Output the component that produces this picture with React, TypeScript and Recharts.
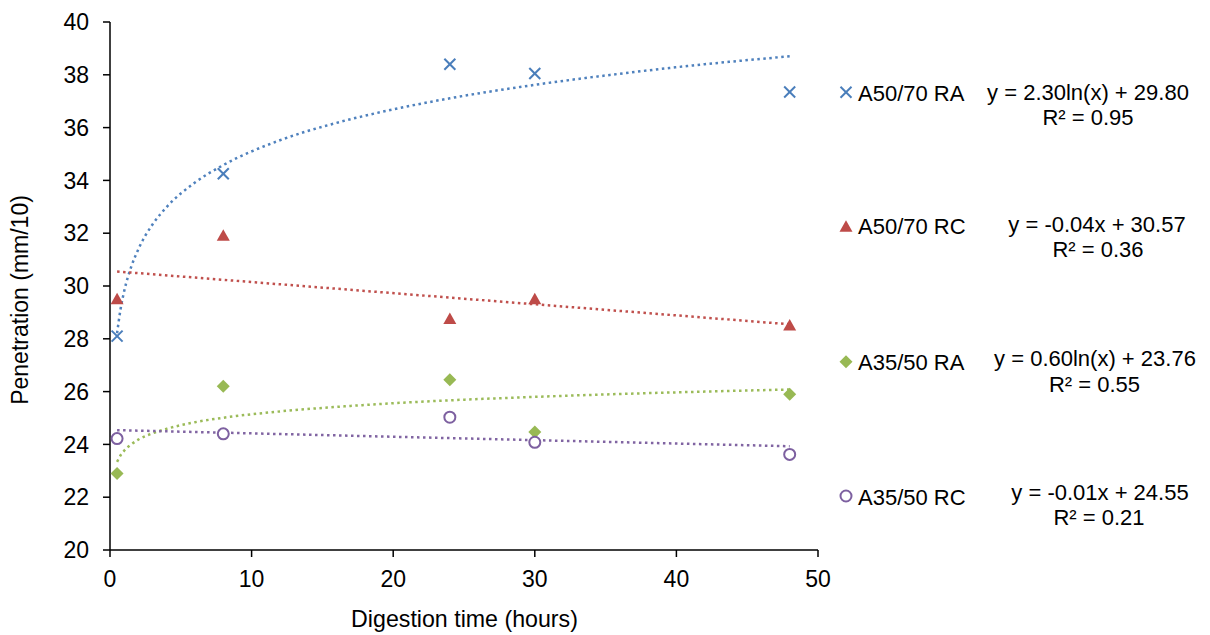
import React from "react"
import { ComposedChart, Scatter, Line, XAxis, YAxis, Label } from "recharts"

const FONT = "'Liberation Sans', Arial, sans-serif"

// measured points (hours vs penetration)
const hours = [0.5, 8, 24, 30, 48]
const a5070RA = [28.1, 34.25, 38.4, 38.05, 37.35]
const a5070RC = [29.5, 31.9, 28.75, 29.5, 28.5]
const a3550RA = [22.9, 26.2, 26.45, 24.47, 25.9]
const a3550RC = [24.22, 24.4, 25.03, 24.08, 23.62]

// trendlines
const logTrendHours = [0.5, 0.75, 1, 1.5, 2, 3, 4, 6, 8, 12, 16, 20, 24, 30, 36, 42, 48]
const a5070RATrend = [28.21, 29.14, 29.8, 30.73, 31.39, 32.33, 32.99, 33.92, 34.58, 35.52, 36.18, 36.69, 37.11, 37.62, 38.04, 38.4, 38.7]
const a3550RATrend = [23.34, 23.59, 23.76, 24.0, 24.18, 24.42, 24.59, 24.84, 25.01, 25.25, 25.42, 25.56, 25.67, 25.8, 25.91, 26.0, 26.08]
const linTrendHours = [0.5, 48]
const a5070RCTrend = [30.55, 28.55]
const a3550RCTrend = [24.54, 23.93]

const xTicks = [0, 10, 20, 30, 40, 50]
const yTicks = [20, 22, 24, 26, 28, 30, 32, 34, 36, 38, 40]

const seriesNames = ["A50/70 RA", "A50/70 RC", "A35/50 RA", "A35/50 RC"]
const equations = ["y = 2.30ln(x) + 29.80", "y = -0.04x + 30.57", "y = 0.60ln(x) + 23.76", "y = -0.01x + 24.55"]
const rSquared = ["R² = 0.95", "R² = 0.36", "R² = 0.55", "R² = 0.21"]

type Kind = "cross" | "triangle" | "diamond" | "circle"
const KINDS: Kind[] = ["cross", "triangle", "diamond", "circle"]
const COLORS = ["#4A7EBB", "#BE4B48", "#98B954", "#7D60A0"]
const LINE_COLORS = ["#4F81BD", "#C0504D", "#9BBB59", "#8064A2"]

// legend / trendline label layout
const LEGEND_MARK_X = 846
const LEGEND_TEXT_X = 858
const MARK_Y = [92.3, 226.7, 361.7, 496]
const LABEL_BASE = [100.5, 234, 369.5, 505]
const EQ_X = [1088, 1097, 1095, 1100]
const EQ_BASE = [100, 232, 366, 500]
const R2_X = [1088, 1098, 1094.5, 1099]
const R2_BASE = [124.5, 257, 391.5, 525]

const toPoints = (xs: number[], ys: number[]) => xs.map((x, i) => ({ x, y: ys[i] }))

function Marker({ kind, cx, cy, color }: { kind: Kind; cx: number; cy: number; color: string }) {
  if (kind === "cross") {
    const s = 5.5
    return (
      <g stroke={color} strokeWidth={2}>
        <line x1={cx - s} y1={cy - s} x2={cx + s} y2={cy + s} />
        <line x1={cx - s} y1={cy + s} x2={cx + s} y2={cy - s} />
      </g>
    )
  }
  if (kind === "triangle") {
    return <polygon points={`${cx},${cy - 6.5} ${cx + 6.5},${cy + 5} ${cx - 6.5},${cy + 5}`} fill={color} />
  }
  if (kind === "diamond") {
    return <polygon points={`${cx},${cy - 6.5} ${cx + 6.5},${cy} ${cx},${cy + 6.5} ${cx - 6.5},${cy}`} fill={color} />
  }
  return <circle cx={cx} cy={cy} r={5.5} fill="#fff" stroke={color} strokeWidth={2} />
}

const measured = [a5070RA, a5070RC, a3550RA, a3550RC]
const trends = [
  toPoints(logTrendHours, a5070RATrend),
  toPoints(linTrendHours, a5070RCTrend),
  toPoints(logTrendHours, a3550RATrend),
  toPoints(linTrendHours, a3550RCTrend),
]

const tickStyle = { fill: "#000", fontSize: 23, fontFamily: FONT }

export default function App() {
  return (
    <div style={{ position: "absolute", left: 0, top: 0, width: 1210, height: 635, background: "#fff", fontFamily: FONT }}>
      <ComposedChart width={1210} height={635} margin={{ top: 22, right: 392, bottom: 45, left: 50 }}>
        <XAxis
          type="number"
          dataKey="x"
          domain={[0, 50]}
          ticks={xTicks}
          allowDataOverflow
          height={40}
          tickSize={7}
          tickMargin={14}
          tick={tickStyle}
          axisLine={{ stroke: "#000", strokeWidth: 1.5 }}
          tickLine={{ stroke: "#000", strokeWidth: 1.5 }}
        >
          <Label
            content={() => (
              <text x={464.5} y={627} textAnchor="middle" fontSize={23.2} fontFamily={FONT} fill="#000">
                Digestion time (hours)
              </text>
            )}
          />
        </XAxis>
        <YAxis
          type="number"
          dataKey="y"
          domain={[20, 40]}
          ticks={yTicks}
          allowDataOverflow
          width={60}
          tickSize={7}
          tickMargin={14}
          tick={tickStyle}
          axisLine={{ stroke: "#000", strokeWidth: 1.5 }}
          tickLine={{ stroke: "#000", strokeWidth: 1.5 }}
        >
          <Label
            content={() => (
              <text transform="translate(28,300) rotate(-90)" textAnchor="middle" fontSize={23} fontFamily={FONT} fill="#000">
                Penetration (mm/10)
              </text>
            )}
          />
        </YAxis>
        {trends.map((t, i) => (
          <Line
            key={"t" + i}
            data={t}
            dataKey="y"
            type="monotone"
            stroke={LINE_COLORS[i]}
            strokeWidth={2.5}
            strokeDasharray="2.5 3.5"
            dot={false}
            activeDot={false}
            isAnimationActive={false}
          />
        ))}
        {measured.map((vals, i) => (
          <Scatter
            key={"s" + i}
            name={seriesNames[i]}
            data={toPoints(hours, vals)}
            isAnimationActive={false}
            shape={(p: any) => <Marker kind={KINDS[i]} cx={p.cx} cy={p.cy} color={COLORS[i]} />}
          />
        ))}
      </ComposedChart>
      <svg width={1210} height={635} style={{ position: "absolute", left: 0, top: 0, pointerEvents: "none" }}>
        {seriesNames.map((name, i) => (
          <g key={name} fontFamily={FONT} fontSize={22} fill="#000">
            <Marker kind={KINDS[i]} cx={LEGEND_MARK_X} cy={MARK_Y[i]} color={COLORS[i]} />
            <text x={LEGEND_TEXT_X} y={LABEL_BASE[i]}>{name}</text>
            <text x={EQ_X[i]} y={EQ_BASE[i]} textAnchor="middle">{equations[i]}</text>
            <text x={R2_X[i]} y={R2_BASE[i]} textAnchor="middle">{rSquared[i]}</text>
          </g>
        ))}
      </svg>
    </div>
  )
}
